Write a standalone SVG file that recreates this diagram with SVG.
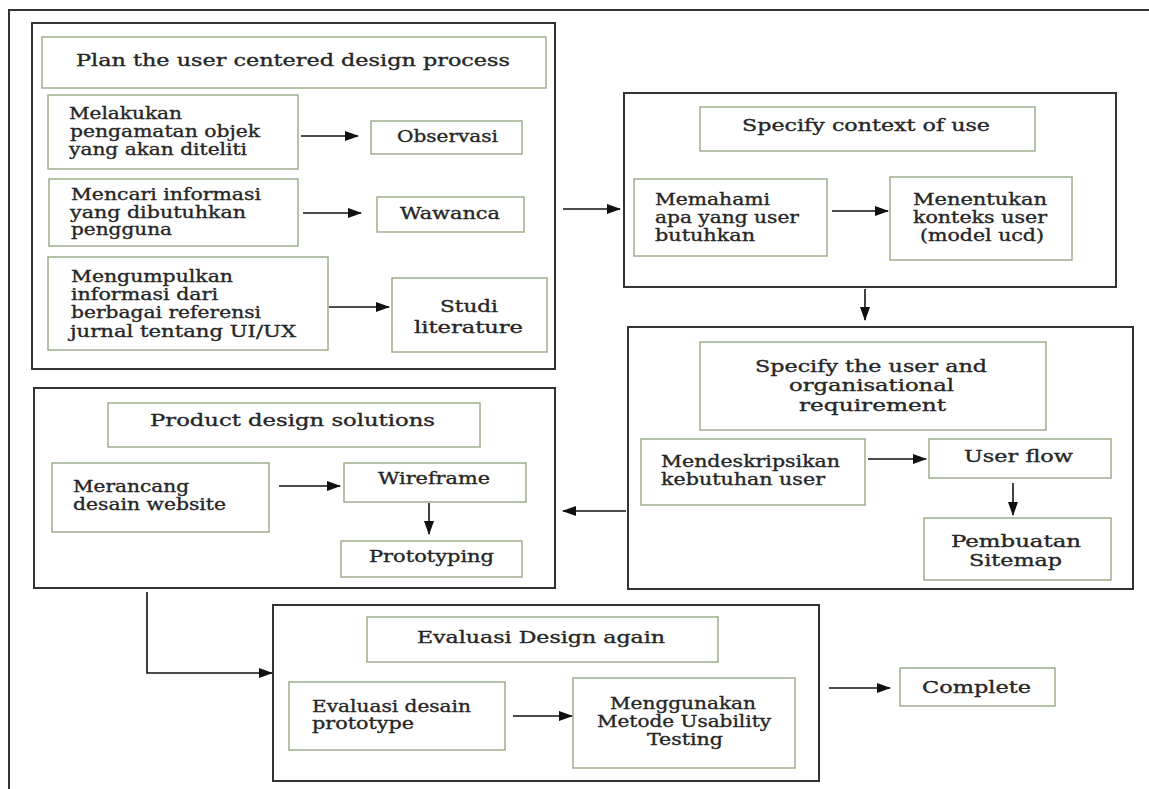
<svg xmlns="http://www.w3.org/2000/svg" width="1149" height="789" viewBox="0 0 1149 789">
  <defs>
    <marker id="arrow" markerUnits="userSpaceOnUse" markerWidth="14" markerHeight="10" refX="13" refY="5" orient="auto">
      <path d="M0,0 L14,5 L0,10 Z" fill="#111"/>
    </marker>
    <style>
      .frame { fill: none; stroke: #333; stroke-width: 2; }
      .stage { fill: #fff; stroke: #333; stroke-width: 2; }
      .box { fill: #fff; stroke: #9fae8c; stroke-width: 1.5; }
      .t { font-family: "DejaVu Serif", "Liberation Serif", serif; font-size: 16.5px; fill: #262626; stroke: #262626; stroke-width: 0.35px; }
      .c { fill: none; stroke: #111; stroke-width: 1.6; marker-end: url(#arrow); }
    </style>
  </defs>

  <rect width="1149" height="789" fill="#fff"/>
  <!-- page frame: left and top rules only -->
  <path class="frame" d="M9,789 V10 H1149"/>

  <!-- Stage 1: plan the process -->
  <g id="stage-plan">
    <rect class="stage" x="32" y="23" width="523" height="346"/>
    <g id="plan-title">
      <rect class="box" x="42" y="37" width="504" height="51"/>
      <text class="t" x="76" y="66" textLength="434" lengthAdjust="spacingAndGlyphs">Plan the user centered design process</text>
    </g>
    <g id="plan-observe">
      <rect class="box" x="48" y="95" width="250" height="74"/>
      <text class="t" x="69" y="119" textLength="113" lengthAdjust="spacingAndGlyphs">Melakukan</text>
      <text class="t" x="70" y="137" textLength="190" lengthAdjust="spacingAndGlyphs">pengamatan objek</text>
      <text class="t" x="69" y="155" textLength="178" lengthAdjust="spacingAndGlyphs">yang akan diteliti</text>
    </g>
    <g id="observasi">
      <rect class="box" x="371" y="121" width="151" height="33"/>
      <text class="t" x="397" y="142" textLength="101" lengthAdjust="spacingAndGlyphs">Observasi</text>
    </g>
    <g id="plan-info">
      <rect class="box" x="49" y="179" width="249" height="67"/>
      <text class="t" x="71" y="200" textLength="190" lengthAdjust="spacingAndGlyphs">Mencari informasi</text>
      <text class="t" x="70" y="218" textLength="176" lengthAdjust="spacingAndGlyphs">yang dibutuhkan</text>
      <text class="t" x="71" y="235" textLength="101" lengthAdjust="spacingAndGlyphs">pengguna</text>
    </g>
    <g id="wawanca">
      <rect class="box" x="377" y="197" width="147" height="35"/>
      <text class="t" x="400" y="219" textLength="100" lengthAdjust="spacingAndGlyphs">Wawanca</text>
    </g>
    <g id="plan-collect">
      <rect class="box" x="48" y="257" width="280" height="93"/>
      <text class="t" x="71" y="282" textLength="162" lengthAdjust="spacingAndGlyphs">Mengumpulkan</text>
      <text class="t" x="71" y="300" textLength="147" lengthAdjust="spacingAndGlyphs">informasi dari</text>
      <text class="t" x="71" y="318" textLength="190" lengthAdjust="spacingAndGlyphs">berbagai referensi</text>
      <text class="t" x="70" y="337" textLength="226" lengthAdjust="spacingAndGlyphs">jurnal tentang UI/UX</text>
    </g>
    <g id="studi-literature">
      <rect class="box" x="392" y="278" width="155" height="74"/>
      <text class="t" x="440" y="312" textLength="58" lengthAdjust="spacingAndGlyphs">Studi</text>
      <text class="t" x="414" y="333" textLength="109" lengthAdjust="spacingAndGlyphs">literature</text>
    </g>
  </g>

  <!-- Stage 2: context of use -->
  <g id="stage-context">
    <rect class="stage" x="624" y="93" width="492" height="194"/>
    <g id="context-title">
      <rect class="box" x="700" y="107" width="335" height="44"/>
      <text class="t" x="742" y="131" textLength="248" lengthAdjust="spacingAndGlyphs">Specify context of use</text>
    </g>
    <g id="context-understand">
      <rect class="box" x="634" y="179" width="193" height="77"/>
      <text class="t" x="655" y="205" textLength="115" lengthAdjust="spacingAndGlyphs">Memahami</text>
      <text class="t" x="655" y="223" textLength="144" lengthAdjust="spacingAndGlyphs">apa yang user</text>
      <text class="t" x="655" y="241" textLength="100" lengthAdjust="spacingAndGlyphs">butuhkan</text>
    </g>
    <g id="context-model">
      <rect class="box" x="890" y="177" width="182" height="83"/>
      <text class="t" x="913" y="205" textLength="134" lengthAdjust="spacingAndGlyphs">Menentukan</text>
      <text class="t" x="913" y="223" textLength="134" lengthAdjust="spacingAndGlyphs">konteks user</text>
      <text class="t" x="920" y="241" textLength="124" lengthAdjust="spacingAndGlyphs">(model ucd)</text>
    </g>
  </g>

  <!-- Stage 3: user and organisational requirement -->
  <g id="stage-requirement">
    <rect class="stage" x="628" y="327" width="505" height="262"/>
    <g id="requirement-title">
      <rect class="box" x="700" y="342" width="346" height="88"/>
      <text class="t" x="755" y="372" textLength="232" lengthAdjust="spacingAndGlyphs">Specify the user and</text>
      <text class="t" x="789" y="391" textLength="165" lengthAdjust="spacingAndGlyphs">organisational</text>
      <text class="t" x="799" y="411" textLength="147" lengthAdjust="spacingAndGlyphs">requirement</text>
    </g>
    <g id="requirement-describe">
      <rect class="box" x="641" y="439" width="224" height="66"/>
      <text class="t" x="661" y="467" textLength="179" lengthAdjust="spacingAndGlyphs">Mendeskripsikan</text>
      <text class="t" x="661" y="485" textLength="164" lengthAdjust="spacingAndGlyphs">kebutuhan user</text>
    </g>
    <g id="user-flow">
      <rect class="box" x="929" y="439" width="182" height="39"/>
      <text class="t" x="964" y="462" textLength="109" lengthAdjust="spacingAndGlyphs">User flow</text>
    </g>
    <g id="sitemap">
      <rect class="box" x="924" y="518" width="187" height="62"/>
      <text class="t" x="951" y="547" textLength="130" lengthAdjust="spacingAndGlyphs">Pembuatan</text>
      <text class="t" x="969" y="566" textLength="93" lengthAdjust="spacingAndGlyphs">Sitemap</text>
    </g>
  </g>

  <!-- Stage 4: design solutions -->
  <g id="stage-design">
    <rect class="stage" x="34" y="388" width="521" height="200"/>
    <g id="design-title">
      <rect class="box" x="108" y="403" width="372" height="44"/>
      <text class="t" x="150" y="426" textLength="285" lengthAdjust="spacingAndGlyphs">Product design solutions</text>
    </g>
    <g id="design-website">
      <rect class="box" x="52" y="463" width="217" height="69"/>
      <text class="t" x="73" y="492" textLength="116" lengthAdjust="spacingAndGlyphs">Merancang</text>
      <text class="t" x="73" y="510" textLength="153" lengthAdjust="spacingAndGlyphs">desain website</text>
    </g>
    <g id="wireframe">
      <rect class="box" x="344" y="463" width="182" height="39"/>
      <text class="t" x="378" y="484" textLength="112" lengthAdjust="spacingAndGlyphs">Wireframe</text>
    </g>
    <g id="prototyping">
      <rect class="box" x="341" y="541" width="181" height="36"/>
      <text class="t" x="369" y="562" textLength="125" lengthAdjust="spacingAndGlyphs">Prototyping</text>
    </g>
  </g>

  <!-- Stage 5: evaluation -->
  <g id="stage-evaluation">
    <rect class="stage" x="273" y="605" width="546" height="176"/>
    <g id="evaluation-title">
      <rect class="box" x="367" y="617" width="351" height="45"/>
      <text class="t" x="417" y="643" textLength="248" lengthAdjust="spacingAndGlyphs">Evaluasi Design again</text>
    </g>
    <g id="evaluation-prototype">
      <rect class="box" x="289" y="682" width="216" height="68"/>
      <text class="t" x="312" y="712" textLength="159" lengthAdjust="spacingAndGlyphs">Evaluasi desain</text>
      <text class="t" x="312" y="729" textLength="102" lengthAdjust="spacingAndGlyphs">prototype</text>
    </g>
    <g id="usability-testing">
      <rect class="box" x="573" y="678" width="222" height="90"/>
      <text class="t" x="610" y="709" textLength="146" lengthAdjust="spacingAndGlyphs">Menggunakan</text>
      <text class="t" x="597" y="727" textLength="174" lengthAdjust="spacingAndGlyphs">Metode Usability</text>
      <text class="t" x="647" y="745" textLength="76" lengthAdjust="spacingAndGlyphs">Testing</text>
    </g>
  </g>

  <g id="complete">
    <rect class="box" x="900" y="668" width="155" height="38"/>
    <text class="t" x="922" y="693" textLength="109" lengthAdjust="spacingAndGlyphs">Complete</text>
  </g>

  <!-- connectors -->
  <g id="connectors">
    <line class="c" x1="301" y1="136" x2="358" y2="136"/>
    <line class="c" x1="303" y1="213" x2="361" y2="213"/>
    <line class="c" x1="329" y1="307" x2="389" y2="307"/>
    <line class="c" x1="563" y1="209" x2="620" y2="209"/>
    <line class="c" x1="832" y1="211" x2="888" y2="211"/>
    <line class="c" x1="865" y1="289" x2="865" y2="320"/>
    <line class="c" x1="868" y1="459" x2="926" y2="459"/>
    <line class="c" x1="1013" y1="483" x2="1013" y2="515"/>
    <line class="c" x1="626" y1="511" x2="563" y2="511"/>
    <line class="c" x1="279" y1="486" x2="340" y2="486"/>
    <line class="c" x1="429" y1="503" x2="429" y2="534"/>
    <polyline class="c" points="147,592 147,673 272,673"/>
    <line class="c" x1="513" y1="716" x2="572" y2="716"/>
    <line class="c" x1="829" y1="688" x2="890" y2="688"/>
  </g>
</svg>
